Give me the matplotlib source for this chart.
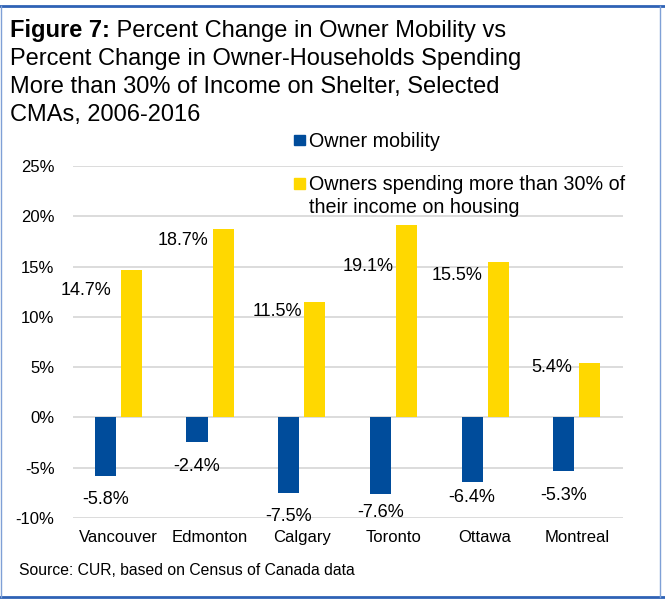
import matplotlib
matplotlib.use("Agg")
import matplotlib.pyplot as plt
import numpy as np
from matplotlib.patches import Rectangle
from matplotlib.lines import Line2D

plt.rcParams['font.family'] = ['Liberation Sans', 'DejaVu Sans']

# data
cities = ['Vancouver', 'Edmonton', 'Calgary', 'Toronto', 'Ottawa', 'Montreal']
owner_mobility = [-5.8, -2.4, -7.5, -7.6, -6.4, -5.3]
owners_30pct = [14.7, 18.7, 11.5, 19.1, 15.5, 5.4]
yticks = [-10, -5, 0, 5, 10, 15, 20, 25]

# label placement (the original labels were dragged by hand)
yellow_drop = [2.1, 1.1, 1.0, 4.1, 1.4, 0.4]   # % below bar top
yellow_gap = [9, 4, 2, 2, 5, 7]               # px left of bar
blue_drop = [2.4, 2.5, 2.4, 1.9, 1.6, 2.5]     # % below bar end

W, H = 665, 601
blue = '#004C9B'
yellow = '#FFD800'

fig = plt.figure(figsize=(W / 100, H / 100), dpi=100)

def fx(px):
    return px / W

def fy(py):
    return 1 - py / H

ax = fig.add_axes([fx(72.5), fy(518), fx(622.7 - 72.5), (518 - 166) / H])

x = np.arange(len(cities))
bw = 0.23
off = 0.142
ax.bar(x - off, owner_mobility, bw, color=blue, zorder=3)
ax.bar(x + off, owners_30pct, bw, color=yellow, zorder=3)

ax.set_xlim(-0.5, len(cities) - 0.5)
ax.set_ylim(-10, 25)
ax.set_yticks(yticks)
ax.set_yticklabels([f'{t}%' for t in yticks], fontsize=12)
ax.set_xticks(x)
ax.set_xticklabels(cities, fontsize=12)
ax.tick_params(axis='y', length=0, pad=13)
ax.tick_params(axis='x', length=0, pad=8.5)
ax.grid(axis='y', color='#D9D9D9', lw=1.3, zorder=0)
for s in ax.spines.values():
    s.set_visible(False)

for i in range(len(cities)):
    ax.annotate(f'{owners_30pct[i]}%', xy=(x[i] + off - bw / 2, owners_30pct[i] - yellow_drop[i]),
                xytext=(-yellow_gap[i] * 0.72, 0), textcoords='offset points',
                ha='right', va='center', fontsize=13)
    ax.annotate(f'{owner_mobility[i]}%', xy=(x[i] - off, owner_mobility[i] - blue_drop[i]),
                ha='center', va='center', fontsize=13)

# title: bold "Figure 7:" then regular text
r = fig.canvas.get_renderer()
t = fig.text(fx(10), fy(37), 'Figure 7:', fontsize=17, fontweight='bold', va='baseline')
bb = t.get_window_extent(renderer=r)
fig.text(bb.x1 / W, fy(37), ' Percent Change in Owner Mobility vs', fontsize=17, va='baseline')
title_lines = ['Percent Change in Owner-Households Spending',
               'More than 30% of Income on Shelter, Selected',
               'CMAs, 2006-2016']
for k, line in enumerate(title_lines):
    fig.text(fx(10), fy(65 + 28 * k), line, fontsize=17, va='baseline')

# legend drawn by hand to keep the square on the first line
fig.patches.append(Rectangle((fx(294), fy(145)), 11 / W, 10 / H, color=blue,
                             transform=fig.transFigure, figure=fig))
fig.text(fx(309), fy(147), 'Owner mobility', fontsize=14.2, va='baseline')
fig.patches.append(Rectangle((fx(294), fy(189)), 11 / W, 11 / H, color=yellow,
                             transform=fig.transFigure, figure=fig))
fig.text(fx(309), fy(190), 'Owners spending more than 30% of', fontsize=14.2, va='baseline')
fig.text(fx(309), fy(213), 'their income on housing', fontsize=14.2, va='baseline')

fig.text(fx(19), fy(575), 'Source: CUR, based on Census of Canada data', fontsize=11.3, va='baseline')

# blue frame around the figure
border = '#2F62B5'
fig.lines.append(Line2D([fx(0), fx(665)], [fy(6), fy(6)], color=border, lw=2, transform=fig.transFigure))
fig.lines.append(Line2D([fx(0), fx(665)], [fy(597), fy(597)], color=border, lw=2, transform=fig.transFigure))
fig.lines.append(Line2D([fx(660), fx(660)], [fy(6), fy(597)], color='#7FA0D6', lw=1, transform=fig.transFigure))
fig.lines.append(Line2D([fx(1), fx(1)], [fy(6), fy(597)], color='#7FA0D6', lw=1, transform=fig.transFigure))

fig.savefig('out.png', dpi=100)
